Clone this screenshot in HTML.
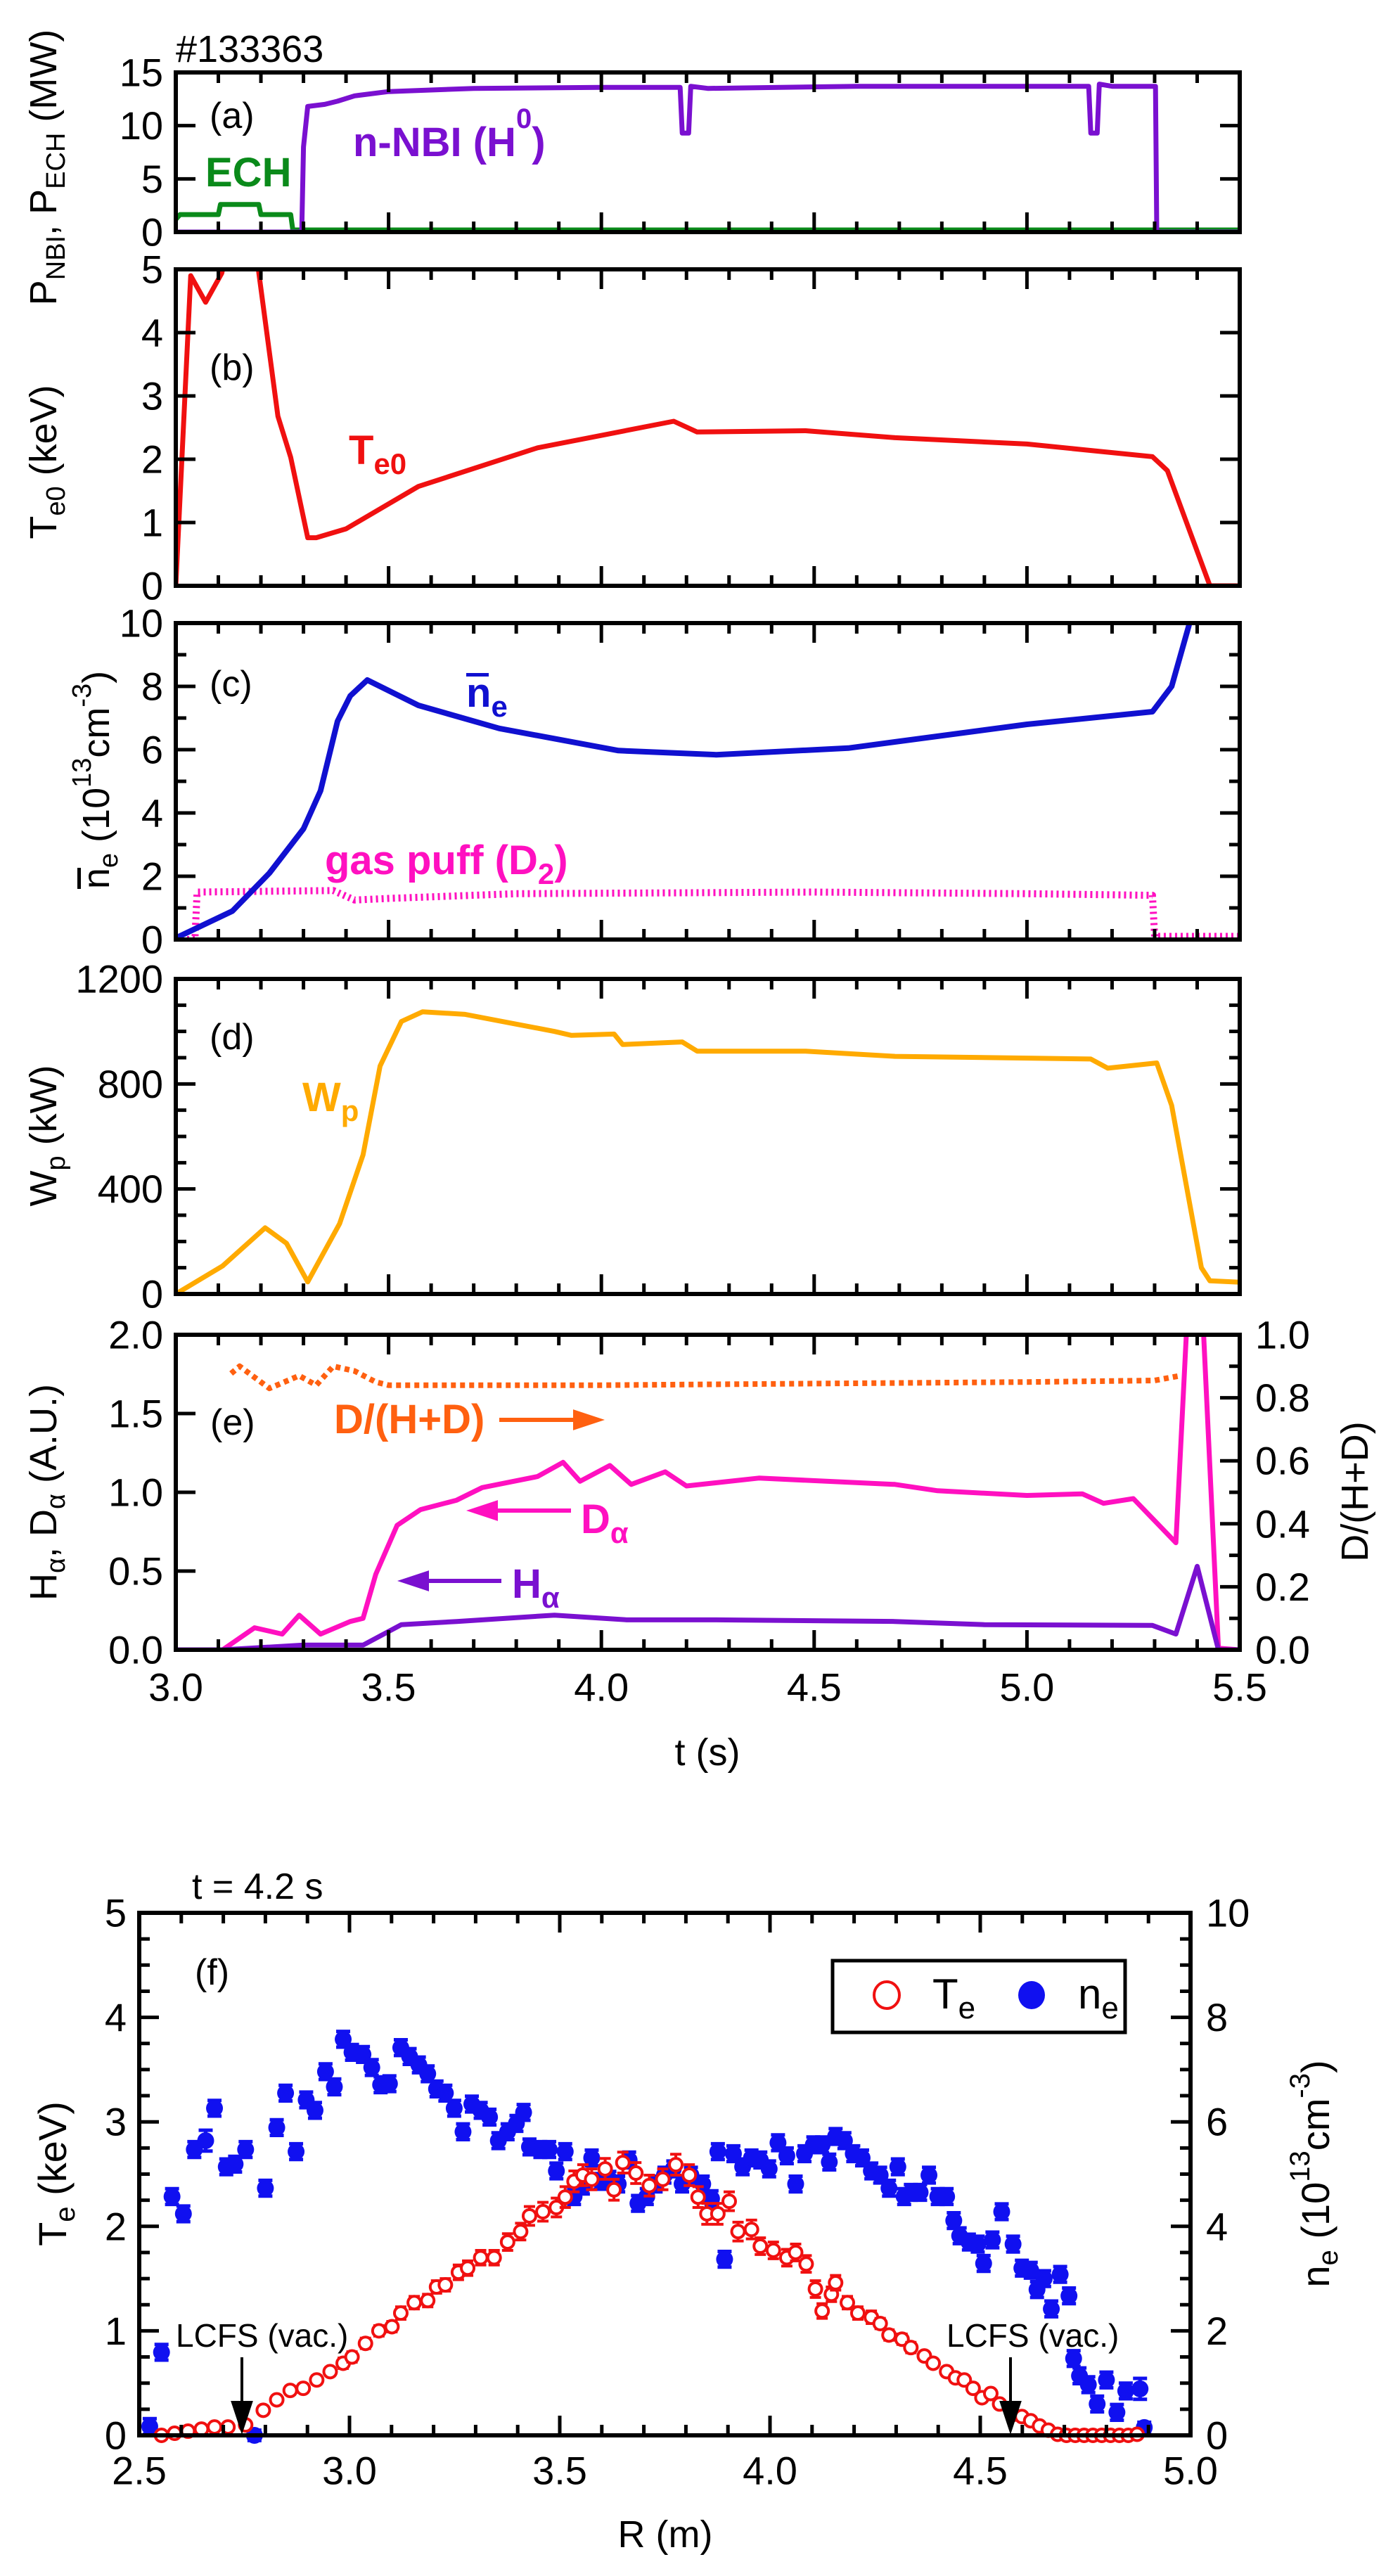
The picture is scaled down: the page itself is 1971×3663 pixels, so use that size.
<!DOCTYPE html>
<html><head><meta charset="utf-8"><style>
html,body{margin:0;padding:0;background:#fff}
svg{display:block}
text{font-family:"Liberation Sans",Arial,sans-serif}
.b{font-weight:bold}
</style></head><body>
<svg id="fig" xmlns="http://www.w3.org/2000/svg" width="1971" height="3663" viewBox="0 0 1971 3663">
<rect width="1971" height="3663" fill="#fff"/>
<g id="marks"></g>
<g id="axes"></g>
<g id="labels" font-size="52">
<text x="250" y="88" font-size="54">#133363</text>
<text x="298" y="182">(a)</text>
<text class="b" x="292" y="265" fill="#0a8a1a" font-size="58">ECH</text>
<text class="b" x="502" y="222" fill="#7a10d0" font-size="58">n-NBI (H<tspan dy="-40" font-size="40">0</tspan><tspan dy="40">)</tspan></text>
<text transform="translate(80,238) rotate(-90)" text-anchor="middle" font-size="54">P<tspan dy="12" font-size="38">NBI</tspan><tspan dy="-12">, P</tspan><tspan dy="12" font-size="38">ECH</tspan><tspan dy="-12"> (MW)</tspan></text>
<text x="298" y="540">(b)</text>
<text class="b" x="496" y="660" fill="#f01010" font-size="58">T<tspan dy="14" font-size="42">e0</tspan></text>
<text transform="translate(80,657) rotate(-90)" text-anchor="middle" font-size="54">T<tspan dy="12" font-size="38">e0</tspan><tspan dy="-12"> (keV)</tspan></text>
<text x="298" y="990">(c)</text>
<text class="b" x="663" y="1005" fill="#1010d0" font-size="58">n<tspan dy="14" font-size="42">e</tspan></text>
<rect x="663" y="957" width="32" height="5" fill="#1010d0"/>
<text class="b" x="462" y="1243" fill="#ff10c0" font-size="58">gas puff (D<tspan dy="14" font-size="42">2</tspan><tspan dy="-14">)</tspan></text>
<text transform="translate(155,1109) rotate(-90)" text-anchor="middle" font-size="54">n<tspan dy="12" font-size="38">e</tspan><tspan dy="-12"> (10</tspan><tspan dy="-26" font-size="38">13</tspan><tspan dy="26">cm</tspan><tspan dy="-26" font-size="38">-3</tspan><tspan dy="26">)</tspan></text>
<rect x="110" y="1234" width="5" height="30" fill="#000"/>
<text x="298" y="1492">(d)</text>
<text class="b" x="430" y="1580" fill="#ffaa00" font-size="58">W<tspan dy="14" font-size="42">p</tspan></text>
<text transform="translate(80,1615) rotate(-90)" text-anchor="middle" font-size="54">W<tspan dy="12" font-size="38">p</tspan><tspan dy="-12"> (kW)</tspan></text>
<text x="299" y="2040">(e)</text>
<text class="b" x="475" y="2038" fill="#ff6010" font-size="58">D/(H+D)</text>
<text class="b" x="826" y="2180" fill="#ff10c0" font-size="58">D<tspan dy="14" font-size="42">α</tspan></text>
<text class="b" x="728" y="2272" fill="#7a10d0" font-size="58">H<tspan dy="14" font-size="42">α</tspan></text>
<text transform="translate(80,2122) rotate(-90)" text-anchor="middle" font-size="54">H<tspan dy="12" font-size="38">α</tspan><tspan dy="-12">, D</tspan><tspan dy="12" font-size="38">α</tspan><tspan dy="-12"> (A.U.)</tspan></text>
<text transform="translate(1945,2121) rotate(-90)" text-anchor="middle" font-size="54">D/(H+D)</text>
<text x="1006" y="2510" text-anchor="middle" font-size="54">t (s)</text>
<text x="273" y="2700" font-size="52">t = 4.2 s</text>
<text x="277" y="2822">(f)</text>
<text transform="translate(94,3091) rotate(-90)" text-anchor="middle" font-size="56">T<tspan dy="12" font-size="40">e</tspan><tspan dy="-12"> (keV)</tspan></text>
<text transform="translate(1890,3091) rotate(-90)" text-anchor="middle" font-size="56">n<tspan dy="12" font-size="40">e</tspan><tspan dy="-12"> (10</tspan><tspan dy="-28" font-size="40">13</tspan><tspan dy="28">cm</tspan><tspan dy="-28" font-size="40">-3</tspan><tspan dy="28">)</tspan></text>
<text x="946" y="3622" text-anchor="middle" font-size="54">R (m)</text>
<text x="250" y="3337" font-size="46">LCFS (vac.)</text>
<text x="1346" y="3337" font-size="46">LCFS (vac.)</text>
<g>
<rect x="1184" y="2788" width="416" height="102" fill="#fff" stroke="#000" stroke-width="5"/>
<ellipse cx="1261" cy="2837" rx="18" ry="19" fill="none" stroke="#f01010" stroke-width="4"/>
<text x="1326" y="2856" font-size="60">T<tspan dy="14" font-size="44">e</tspan></text>
<ellipse cx="1467" cy="2837" rx="19" ry="20" fill="#1010f0"/>
<text x="1533" y="2856" font-size="60">n<tspan dy="14" font-size="44">e</tspan></text>
</g>
</g>
</svg>
<script>
// ---- data arrays ----
const nbiT=[3.0,3.296,3.30,3.31,3.35,3.38,3.42,3.5,3.7,4.0,4.185,4.19,4.205,4.21,4.25,4.6,5.145,5.15,5.165,5.17,5.2,5.302,5.305,5.5];
const nbiV=[0,0,8,11.8,12.0,12.3,12.8,13.2,13.5,13.6,13.6,9.3,9.3,13.7,13.5,13.7,13.7,9.3,9.3,13.9,13.7,13.7,0,0];
const echT=[3.0,3.01,3.1,3.105,3.195,3.2,3.27,3.275,5.5];
const echV=[1.0,1.45,1.45,2.4,2.4,1.45,1.45,0,0];
const teT=[3.0,3.035,3.07,3.108,3.13,3.17,3.19,3.24,3.27,3.31,3.33,3.40,3.57,3.85,4.01,4.17,4.225,4.48,4.69,5.0,5.295,5.33,5.43,5.5];
const teV=[0,4.9,4.48,4.94,5.6,5.6,5.2,2.68,2.03,0.76,0.76,0.9,1.57,2.18,2.39,2.6,2.43,2.45,2.34,2.24,2.04,1.82,0,0];
const neT=[3.0,3.133,3.22,3.30,3.34,3.38,3.41,3.45,3.57,3.76,4.04,4.27,4.58,5.0,5.295,5.34,5.38,5.40];
const neV=[0.05,0.9,2.1,3.5,4.7,6.9,7.7,8.2,7.4,6.67,5.97,5.84,6.05,6.8,7.2,8.0,9.9,11];
const gasT=[3.0,3.045,3.05,3.37,3.42,3.5,3.6,3.8,4.5,5.0,5.28,5.295,5.30,5.5];
const gasV=[0,0,1.5,1.55,1.25,1.3,1.35,1.45,1.5,1.45,1.4,1.4,0.1,0.1];
const wpT=[3.0,3.11,3.21,3.26,3.31,3.385,3.44,3.48,3.53,3.58,3.68,3.89,3.93,4.03,4.05,4.19,4.225,4.48,4.69,5.15,5.19,5.305,5.34,5.41,5.43,5.5];
const wpV=[0,107,252,193,46,268,530,868,1038,1075,1065,1000,985,990,950,960,925,925,905,895,860,880,718,100,50,45];
const daT=[3.0,3.11,3.185,3.25,3.29,3.34,3.41,3.44,3.47,3.52,3.575,3.66,3.72,3.85,3.91,3.95,4.02,4.07,4.15,4.20,4.37,4.69,4.79,5.0,5.13,5.18,5.25,5.35,5.38,5.41,5.45,5.5];
const daV=[0,0,0.14,0.1,0.22,0.1,0.18,0.2,0.48,0.79,0.89,0.95,1.03,1.1,1.19,1.07,1.17,1.05,1.13,1.04,1.09,1.05,1.01,0.98,0.99,0.93,0.96,0.68,2.3,2.3,0.01,0];
const haT=[3.0,3.11,3.30,3.44,3.53,3.66,3.89,4.06,4.27,4.69,4.9,5.295,5.35,5.40,5.45,5.5];
const haV=[0,0,0.03,0.03,0.16,0.18,0.22,0.19,0.19,0.18,0.16,0.155,0.1,0.53,0,0];
const dhdT=[3.13,3.15,3.22,3.29,3.33,3.37,3.42,3.47,3.5,4.0,4.5,5.0,5.3,5.36];
const dhdV=[0.877,0.9,0.83,0.87,0.84,0.9,0.885,0.85,0.84,0.84,0.845,0.85,0.855,0.87];
const teR=[2.553,2.584,2.616,2.648,2.679,2.711,2.753,2.795,2.827,2.859,2.890,2.922,2.954,2.985,3.006,3.038,3.070,3.101,3.122,3.154,3.186,3.207,3.228,3.259,3.281,3.312,3.344,3.376,3.407,3.428,3.460,3.492,3.513,3.534,3.555,3.576,3.608,3.629,3.650,3.681,3.713,3.745,3.776,3.808,3.829,3.850,3.876,3.903,3.924,3.956,3.977,4.008,4.040,4.061,4.086,4.108,4.124,4.146,4.156,4.184,4.209,4.241,4.262,4.283,4.314,4.335,4.367,4.388,4.420,4.441,4.462,4.483,4.504,4.525,4.546,4.578,4.599,4.620,4.641,4.662,4.684,4.705,4.726,4.747,4.768,4.789,4.810,4.831,4.852,4.873];
const teProf=[0.0,0.02,0.04,0.06,0.08,0.08,0.1,0.24,0.34,0.43,0.45,0.53,0.61,0.69,0.75,0.88,1.0,1.04,1.17,1.27,1.29,1.42,1.44,1.56,1.6,1.7,1.7,1.85,1.95,2.1,2.14,2.18,2.28,2.43,2.49,2.45,2.55,2.35,2.61,2.51,2.39,2.45,2.59,2.49,2.28,2.12,2.12,2.24,1.95,1.97,1.81,1.77,1.70,1.75,1.64,1.40,1.19,1.35,1.46,1.27,1.17,1.13,1.07,0.96,0.92,0.84,0.76,0.69,0.61,0.55,0.53,0.45,0.36,0.40,0.30,0.20,0.18,0.14,0.09,0.05,0.01,0,0,0,0,0,0,0,0,0.01];
const teErr=[0.03,0.03,0.03,0.03,0.03,0.03,0.03,0.04,0.04,0.04,0.04,0.04,0.04,0.05,0.05,0.05,0.05,0.05,0.06,0.06,0.06,0.06,0.06,0.07,0.07,0.07,0.07,0.08,0.08,0.09,0.09,0.09,0.1,0.1,0.1,0.1,0.1,0.1,0.1,0.1,0.1,0.1,0.1,0.1,0.1,0.1,0.1,0.09,0.09,0.09,0.08,0.08,0.08,0.08,0.08,0.08,0.07,0.07,0.07,0.06,0.06,0.06,0.05,0.05,0.05,0.05,0.04,0.04,0.04,0.04,0.04,0.04,0.03,0.03,0.03,0.03,0.03,0.03,0.03,0.03,0.02,0.02,0.02,0.02,0.02,0.02,0.02,0.02,0.02,0.02];
const neR=[2.525,2.553,2.578,2.605,2.631,2.658,2.679,2.707,2.728,2.753,2.774,2.800,2.827,2.848,2.873,2.897,2.918,2.943,2.964,2.985,3.006,3.032,3.053,3.074,3.095,3.122,3.143,3.165,3.186,3.207,3.228,3.249,3.270,3.291,3.312,3.333,3.354,3.376,3.397,3.414,3.428,3.454,3.475,3.492,3.513,3.534,3.555,3.576,3.597,3.618,3.639,3.665,3.686,3.707,3.728,3.749,3.770,3.791,3.812,3.840,3.861,3.876,3.892,3.913,3.935,3.956,3.977,3.998,4.019,4.040,4.061,4.082,4.103,4.124,4.141,4.156,4.177,4.198,4.219,4.241,4.262,4.283,4.304,4.319,4.335,4.357,4.378,4.399,4.420,4.437,4.451,4.473,4.494,4.508,4.529,4.551,4.578,4.599,4.620,4.635,4.652,4.669,4.690,4.711,4.722,4.736,4.757,4.778,4.800,4.825,4.846,4.880,4.890];
const neProf=[0.17,1.59,4.57,4.24,5.47,5.64,6.26,5.14,5.19,5.47,0,4.73,5.89,6.55,5.43,6.42,6.22,6.96,6.67,7.58,7.33,7.29,7.04,6.71,6.73,7.42,7.25,7.09,6.92,6.63,6.55,6.26,5.81,6.34,6.22,6.09,5.64,5.81,5.97,6.18,5.52,5.47,5.47,5.06,5.43,4.57,4.77,5.31,4.86,4.90,4.81,5.27,4.44,4.57,4.81,4.98,5.10,4.81,4.98,4.81,4.53,5.43,3.37,5.39,5.14,5.31,5.27,5.10,5.60,5.35,4.81,5.39,5.56,5.56,5.23,5.72,5.64,5.39,5.31,5.06,4.98,4.73,5.14,4.57,4.65,4.65,4.98,4.57,4.57,4.11,3.82,3.70,3.66,3.29,3.74,4.28,3.66,3.20,3.16,2.79,3.00,2.42,3.08,2.67,1.47,1.14,0.97,0.60,1.06,0.44,0.85,0.89,0.15];
const neErr=[0.15,0.15,0.15,0.15,0.15,0.2,0.15,0.15,0.15,0.15,0.1,0.15,0.15,0.15,0.15,0.15,0.15,0.15,0.15,0.15,0.15,0.15,0.15,0.15,0.15,0.15,0.15,0.15,0.15,0.15,0.15,0.15,0.15,0.15,0.15,0.15,0.15,0.15,0.15,0.15,0.15,0.15,0.15,0.15,0.15,0.15,0.15,0.15,0.15,0.15,0.15,0.15,0.15,0.15,0.15,0.15,0.15,0.15,0.15,0.15,0.15,0.15,0.15,0.15,0.15,0.15,0.15,0.15,0.15,0.15,0.15,0.15,0.15,0.15,0.15,0.15,0.15,0.15,0.15,0.15,0.15,0.15,0.15,0.15,0.15,0.15,0.15,0.15,0.15,0.15,0.15,0.15,0.15,0.15,0.15,0.15,0.15,0.15,0.15,0.15,0.15,0.15,0.15,0.15,0.15,0.15,0.15,0.15,0.15,0.15,0.15,0.2,0.1];
const tTicks=["3.0","3.5","4.0","4.5","5.0","5.5"];
const rTicks=["2.5","3.0","3.5","4.0","4.5","5.0"];

// ---- layout ----
const NS="http://www.w3.org/2000/svg";
const X0=250,X1=1763;
const sx=t=>X0+(t-3)*(X1-X0)/2.5;
const panels={
 a:{top:103,bot:330,min:0,max:15},
 b:{top:383,bot:833,min:0,max:5},
 c:{top:886,bot:1336,min:0,max:10},
 d:{top:1392,bot:1840,min:0,max:1200},
 e:{top:1898,bot:2346,min:0,max:2},
 f:{top:2720,bot:3463,min:0,max:5}
};
const RX0=198,RX1=1693;
const rx=r=>RX0+(r-2.5)*(RX1-RX0)/2.5;
function sy(p,v){const P=panels[p];return P.bot-(v-P.min)*(P.bot-P.top)/(P.max-P.min);}
function sy2e(v){return panels.e.bot-v*(panels.e.bot-panels.e.top);}
function sy2f(v){return panels.f.bot-v*(panels.f.bot-panels.f.top)/10;}
const marks=document.getElementById('marks'),axes=document.getElementById('axes');
function el(tag,attrs,parent){const e=document.createElementNS(NS,tag);for(const k in attrs)e.setAttribute(k,attrs[k]);(parent||marks).appendChild(e);return e;}
const defs=el('defs',{},document.getElementById('fig'));
for(const k in panels){const P=panels[k];const cp=el('clipPath',{id:'clip-'+k},defs);
 const xa=k==='f'?RX0:X0,xb=k==='f'?RX1:X1;el('rect',{x:xa,y:P.top-2,width:xb-xa,height:P.bot-P.top+4},cp);}
function line(name,T,V,fy,color,extra,clip){
 let d='';for(let i=0;i<T.length;i++){d+=(i?'L':'M')+sx(T[i]).toFixed(1)+','+fy(V[i]).toFixed(1);}
 const p=el('path',Object.assign({d:d,fill:'none',stroke:color,'stroke-width':7,'stroke-linejoin':'round','clip-path':'url(#clip-'+clip+')'},extra||{}));
 
 
}
line('ech-power-line',echT,echV,v=>sy('a',v)-3,'#0a8a1a',{},'a');
line('nbi-power-line',nbiT,nbiV,v=>sy('a',v),'#7a10d0',{},'a');
line('te0-line',teT,teV,v=>sy('b',v),'#f01010',{},'b');
line('gas-puff-line',gasT,gasV,v=>sy('c',v),'#ff10c0',{'stroke-dasharray':'3 5','stroke-width':10},'c');
line('ne-line',neT,neV,v=>sy('c',v),'#1010d0',{'stroke-width':8},'c');
line('wp-line',wpT,wpV,v=>sy('d',v),'#ffaa00',{},'d');
line('dhd-line',dhdT,dhdV,sy2e,'#ff6010',{'stroke-dasharray':'7 6','stroke-width':8},'e');
line('dalpha-line',daT,daV,v=>sy('e',v),'#ff10c0',{},'e');
line('halpha-line',haT,haV,v=>sy('e',v),'#7a10d0',{},'e');
for(let i=0;i<neR.length;i++){
 const g=el('g',{});
 
 
 const x=rx(neR[i]),y=sy2f(neProf[i]),e=(neErr[i]||0.15);
 const y1=sy2f(neProf[i]+e),y2=sy2f(neProf[i]-e);
 el('path',{d:`M${x},${y1}L${x},${y2}M${x-10},${y1}L${x+10},${y1}M${x-10},${y2}L${x+10},${y2}`,stroke:'#1010f0','stroke-width':5},g);
 el('ellipse',{cx:x,cy:y,rx:12,ry:12,fill:'#1010f0'},g);
}
for(let i=0;i<teR.length;i++){
 const g=el('g',{});
 
 
 const x=rx(teR[i]),y=sy('f',teProf[i]),e=(teErr[i]||0.04);
 const y1=sy('f',teProf[i]+e),y2=sy('f',teProf[i]-e);
 el('path',{d:`M${x},${y1}L${x},${y2}M${x-8},${y1}L${x+8},${y1}M${x-8},${y2}L${x+8},${y2}`,stroke:'#f01010','stroke-width':4},g);
 el('circle',{cx:x,cy:y,r:9,fill:'#fff',stroke:'#f01010','stroke-width':4},g);
}
function arrow(name,x1,y1,x2,y2,color,w,head){
 const g=el('g',{});
 
 
 const dx=x2-x1,dy=y2-y1,L=Math.hypot(dx,dy),ux=dx/L,uy=dy/L,hx=x2-ux*head,hy=y2-uy*head;
 el('line',{x1:x1,y1:y1,x2:hx,y2:hy,stroke:color,'stroke-width':w},g);
 el('polygon',{points:`${x2},${y2} ${hx-uy*head*0.33},${hy+ux*head*0.33} ${hx+uy*head*0.33},${hy-ux*head*0.33}`,fill:color},g);
}
arrow('dhd-arrow',710,2019,860,2019,'#ff6010',6,45);
arrow('dalpha-arrow',812,2148,663,2148,'#ff10c0',6,45);
arrow('halpha-arrow',713,2248,565,2248,'#7a10d0',6,45);
arrow('lcfs-arrow-left',344,3352,344,3462,'#000',4,48);
arrow('lcfs-arrow-right',1437,3352,1437,3462,'#000',4,48);
function tl(name,x,y,s,anchor){const t=el('text',{x:x,y:y,'text-anchor':anchor,'font-size':56,'dominant-baseline':'central'},axes);t.textContent=s;
 
 }
function frame(k){const P=panels[k];const xa=k==='f'?RX0:X0,xb=k==='f'?RX1:X1;
 const r=el('rect',{x:xa,y:P.top,width:xb-xa,height:P.bot-P.top,fill:'none',stroke:'#000','stroke-width':6},axes);
 
 
 let d='';
 const n=25;
 for(let i=0;i<=n;i++){const x=xa+i*(xb-xa)/n;const L=(i%5===0)?28:15;
  d+=`M${x},${P.bot}L${x},${P.bot-L}M${x},${P.top}L${x},${P.top+L}`;}
 return {d,xa,xb,P};}
const yt={a:{maj:5,min:5},b:{maj:1,min:1},c:{maj:2,min:1},d:{maj:400,min:100},e:{maj:0.5,min:0.5},f:{maj:1,min:0.25}};
for(const k in panels){
 let {d,xa,xb,P}=frame(k);
 const T=yt[k];const nMin=Math.round((P.max-P.min)/T.min);const per=Math.round(T.maj/T.min);
 for(let i=0;i<=nMin;i++){const v=P.min+i*T.min;const y=sy(k,v);const L=(i%per===0)?28:15;
  d+=`M${xa},${y}L${xa+L},${y}`;
  if(k!=='e'&&k!=='f')d+=`M${xb},${y}L${xb-L},${y}`;
  if(i%per===0){let s=(k==='e')?v.toFixed(1):String(Math.round(v));tl('y-tick-'+k,xa-18,y,s,'end');}}
 if(k==='e'){for(let i=0;i<=10;i++){const v=i*0.1,y=sy2e(v),L=(i%2===0)?28:15;d+=`M${xb},${y}L${xb-L},${y}`;if(i%2===0)tl('y2-tick-e',xb+22,y,v.toFixed(1),'start');}}
 if(k==='f'){for(let i=0;i<=20;i++){const v=i*0.5,y=sy2f(v),L=(i%4===0)?28:15;d+=`M${xb},${y}L${xb-L},${y}`;if(i%4===0)tl('y2-tick-f',xb+22,y,String(v),'start');}}
 const p=el('path',{d:d,stroke:'#000','stroke-width':5,fill:'none'},axes);
 
 
}
tTicks.forEach(s=>tl('x-tick-t',sx(parseFloat(s)),2399,s,'middle'));
rTicks.forEach(s=>tl('x-tick-r',rx(parseFloat(s)),3513,s,'middle'));
</script>
</body></html>
